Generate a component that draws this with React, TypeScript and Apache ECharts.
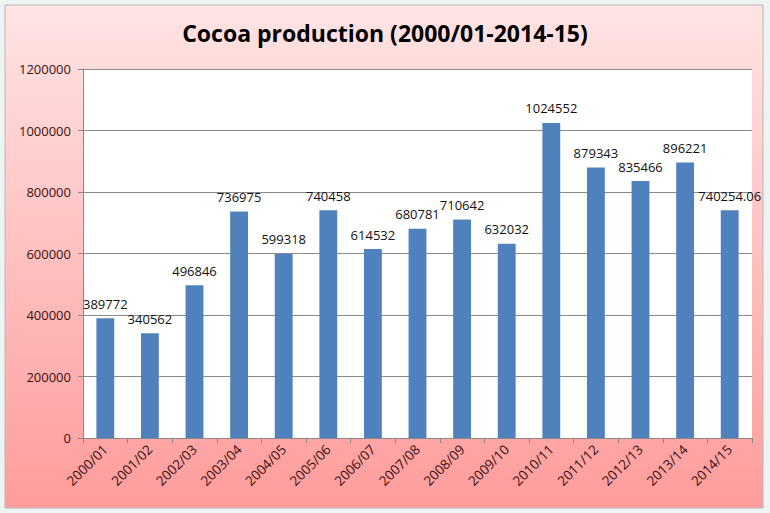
import React, { useEffect, useRef } from "react";
import * as echarts from "echarts";

const categories = ["2000/01","2001/02","2002/03","2003/04","2004/05","2005/06","2006/07","2007/08","2008/09","2009/10","2010/11","2011/12","2012/13","2013/14","2014/15"];
const production = [389772, 340562, 496846, 736975, 599318, 740458, 614532, 680781, 710642, 632032, 1024552, 879343, 835466, 896221, 740254.06];
const titleText = "Cocoa production (2000/01-2014-15)";

export default function App() {
  const ref = useRef<HTMLDivElement>(null);
  useEffect(() => {
    const chart = echarts.init(ref.current!, null, { renderer: "svg" });
    chart.setOption({
      animation: false,
      backgroundColor: "#eef3f3",
      graphic: [
        {
          type: "rect",
          z: -10,
          silent: true,
          shape: { x: 5, y: 5, width: 758, height: 503 },
          style: {
            fill: new echarts.graphic.LinearGradient(0, 0, 0, 1, [
              { offset: 0, color: "#ffe4e4" },
              { offset: 1, color: "#ff9c9c" },
            ]),
            stroke: "#b8b8b8",
            lineWidth: 1,
          },
        },
      ],
      title: {
        text: titleText,
        left: "center",
        top: 16,
        textStyle: { fontFamily: "Open Sans", fontWeight: "bold", fontSize: 23, color: "#000" },
      },
      grid: {
        left: 83, top: 69, right: 18, bottom: 75,
        show: true, backgroundColor: "#ffffff", borderWidth: 0,
      },
      xAxis: {
        type: "category",
        data: categories,
        axisLine: { show: true, lineStyle: { color: "#888" } },
        axisTick: { show: true, alignWithLabel: false, length: 5, lineStyle: { color: "#888" } },
        axisLabel: { rotate: 45, color: "#3a1010", fontFamily: "Open Sans", fontSize: 13.5, margin: 9, interval: 0 },
      },
      yAxis: {
        type: "value",
        min: 0, max: 1200000, interval: 200000,
        axisLine: { show: true, lineStyle: { color: "#888" } },
        axisTick: { show: true, length: 5, lineStyle: { color: "#888" } },
        axisLabel: { color: "#3a1010", fontFamily: "Open Sans", fontSize: 13, margin: 12, formatter: (v: number) => String(v) },
        splitLine: { lineStyle: { color: "#8a8a8a", width: 1 } },
      },
      series: [
        {
          type: "bar",
          data: production,
          barWidth: "40%",
          itemStyle: { color: "#4f81bd" },
          label: {
            show: true, position: "top", color: "#111", fontFamily: "Open Sans", fontSize: 13, distance: 8,
          },
        },
      ],
    });
    return () => chart.dispose();
  }, []);
  return <div ref={ref} style={{ position: "fixed", left: 0, top: 0, width: 770, height: 513 }} />;
}
